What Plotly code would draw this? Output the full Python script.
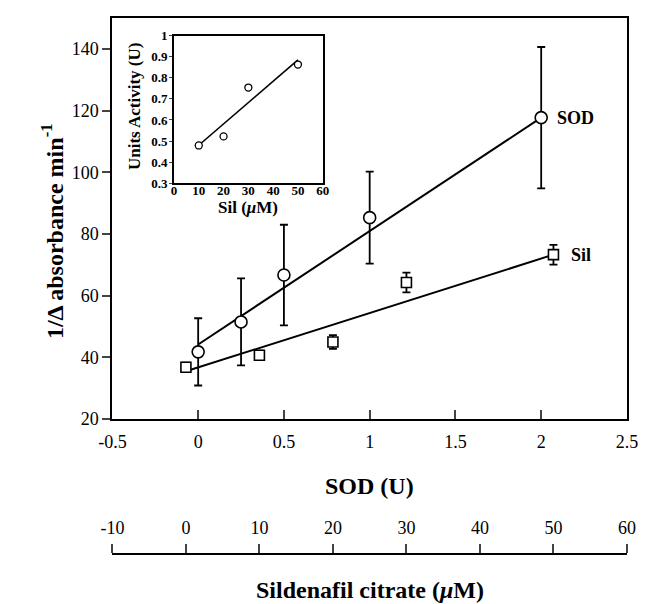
import plotly.graph_objects as go

# ---- data ----
sod_u = [0, 0.25, 0.5, 1, 2]
sod_y = [41.8, 51.5, 66.7, 85.3, 117.7]
sod_err = [10.9, 14.1, 16.3, 14.9, 22.9]
sod_fit_x = [0, 2]
sod_fit_y = [44.2, 117.7]

sil_um = [0, 10, 20, 30, 50]
sil_y = [36.8, 40.7, 45.0, 64.3, 73.3]
sil_err = [1.5, 1.5, 2.2, 3.2, 3.2]
sil_fit_x = [0, 50]
sil_fit_y = [35.5, 73.3]

inset_sil = [10, 20, 30, 50]
inset_units = [0.479, 0.522, 0.754, 0.863]
inset_fit_x = [10, 50]
inset_fit_y = [0.48, 0.885]

sod_ticks = [-0.5, 0, 0.5, 1, 1.5, 2, 2.5]
sod_ticktext = ["-0.5", "0", "0.5", "1", "1.5", "2", "2.5"]
y_ticks = [20, 40, 60, 80, 100, 120, 140]
sil_ticks = [-10, 0, 10, 20, 30, 40, 50, 60]
sil_ticktext = ["-10", "0", "10", "20", "30", "40", "50", "60"]
inset_yticks = [0.3, 0.4, 0.5, 0.6, 0.7, 0.8, 0.9, 1.0]
inset_yticktext = ["0.3", "0.4", "0.5", "0.6", "0.7", "0.8", "0.9", "1"]
inset_xticks = [0, 10, 20, 30, 40, 50, 60]

W, H = 654, 604
SERIF = "Liberation Serif"

def px(xp):
    return xp / W

def py(yp):
    return (H - yp) / (H - 10)

fig = go.Figure()

# SOD fit line & points
fig.add_trace(go.Scatter(x=sod_fit_x, y=sod_fit_y, mode="lines",
                         line=dict(color="black", width=2), xaxis="x", yaxis="y",
                         showlegend=False, hoverinfo="skip"))
fig.add_trace(go.Scatter(x=sod_u, y=sod_y, mode="markers",
                         marker=dict(symbol="circle", size=12, color="white",
                                     line=dict(color="black", width=1.6)),
                         error_y=dict(type="data", array=sod_err, color="black",
                                      thickness=1.8, width=4),
                         xaxis="x", yaxis="y", showlegend=False))

# Sil fit line & points (plotted on sildenafil scale)
fig.add_trace(go.Scatter(x=sil_fit_x, y=sil_fit_y, mode="lines",
                         line=dict(color="black", width=2), xaxis="x3", yaxis="y",
                         showlegend=False, hoverinfo="skip"))
fig.add_trace(go.Scatter(x=sil_um, y=sil_y, mode="markers",
                         marker=dict(symbol="square", size=10, color="white",
                                     line=dict(color="black", width=1.6)),
                         error_y=dict(type="data", array=sil_err, color="black",
                                      thickness=1.8, width=4),
                         xaxis="x3", yaxis="y", showlegend=False))

# inset
fig.add_trace(go.Scatter(x=inset_fit_x, y=inset_fit_y, mode="lines",
                         line=dict(color="black", width=1.6), xaxis="x2", yaxis="y2",
                         showlegend=False, hoverinfo="skip"))
fig.add_trace(go.Scatter(x=inset_sil, y=inset_units, mode="markers",
                         marker=dict(symbol="circle", size=7, color="white",
                                     line=dict(color="black", width=1.3)),
                         xaxis="x2", yaxis="y2", showlegend=False))

# empty traces for the separate sildenafil scale
fig.add_trace(go.Scatter(x=[None], y=[None], xaxis="x4", yaxis="y3", showlegend=False,
                         hoverinfo="skip"))
fig.add_trace(go.Scatter(x=[None], y=[None], xaxis="x5", yaxis="y3", showlegend=False,
                         hoverinfo="skip"))

main_dom_x = [px(94), px(629)]
tickfont = dict(family=SERIF, size=18, color="black")
inset_tickfont = dict(family=SERIF, size=13, color="black", weight="bold")
title_font = dict(family=SERIF, size=24, color="black", weight="bold")
inset_title_font = dict(family=SERIF, size=17, color="black", weight="bold")
label_font = dict(family=SERIF, size=18, color="black", weight="bold")
sil_pos = py(556.5)

fig.update_layout(
    width=W, height=H,
    margin=dict(l=0, r=0, t=10, b=0),
    paper_bgcolor="white", plot_bgcolor="white",
    xaxis=dict(domain=main_dom_x, range=[-0.5, 2.5], tickvals=sod_ticks,
               ticktext=sod_ticktext, ticks="inside", ticklen=9, tickwidth=2,
               showline=True, linewidth=2, linecolor="black", mirror=True,
               showgrid=False, zeroline=False, tickfont=tickfont,
               ticklabelstandoff=5, anchor="y"),
    yaxis=dict(domain=[py(418), 1.0], range=[20, 150], tickvals=y_ticks,
               ticks="outside", ticklen=8, tickwidth=2,
               showline=True, linewidth=2, linecolor="black", mirror=True,
               showgrid=False, zeroline=False, tickfont=tickfont, anchor="x"),
    xaxis3=dict(overlaying="x", range=[-10, 60], visible=False, anchor="y"),
    yaxis3=dict(domain=[0, sil_pos], range=[0, 1], visible=False, anchor="x4"),
    xaxis4=dict(domain=main_dom_x, range=[-10, 60], anchor="y3",
                side="top", tickvals=sil_ticks, ticktext=sil_ticktext,
                ticks="outside", ticklen=9,
                tickwidth=1.8, showline=True, linewidth=1.8, linecolor="black",
                showgrid=False, zeroline=False, tickfont=tickfont,
                ticklabelstandoff=3),
    xaxis5=dict(overlaying="x4", range=[-10, 60], anchor="y3",
                side="top", tickvals=[-10, 60], ticks="inside", ticklen=11,
                tickwidth=1.8, showline=False, showticklabels=False,
                showgrid=False, zeroline=False),
    xaxis2=dict(domain=[px(158), px(312.7)], range=[0, 60], tickvals=inset_xticks,
                ticks="", ticklen=0, showline=True, linewidth=1.6, linecolor="black",
                mirror=True, showgrid=False, zeroline=False, anchor="y2",
                tickfont=inset_tickfont, ticklabelstandoff=-6),
    yaxis2=dict(domain=[py(178), py(28)], range=[0.3, 1.0], tickvals=inset_yticks,
                ticktext=inset_yticktext, ticks="outside", ticklen=3, tickwidth=1.3,
                showline=True, linewidth=1.6, linecolor="black", mirror=True,
                showgrid=False, zeroline=False, anchor="x2",
                tickfont=inset_tickfont, ticklabelstandoff=-1),
    annotations=[
        dict(text="1/Δ absorbance min<sup>-1</sup>", xref="paper", yref="paper",
             x=px(32), y=py(227), xanchor="center", yanchor="middle",
             textangle=-90, showarrow=False, font=title_font),
        dict(text="SOD (U)", xref="paper", yref="paper", x=px(361.5), y=py(486),
             xanchor="center", yanchor="middle", showarrow=False, font=title_font),
        dict(text="Sildenafil citrate (<i>μ</i>M)", xref="paper", yref="paper",
             x=px(361.5), y=py(592), xanchor="center", yanchor="middle",
             showarrow=False, font=title_font),
        dict(text="Units Activity (U)", xref="paper", yref="paper", x=px(117), y=py(100),
             xanchor="center", yanchor="middle", textangle=-90, showarrow=False,
             font=inset_title_font),
        dict(text="Sil (<i>μ</i>M)", xref="paper", yref="paper", x=px(235), y=py(203),
             xanchor="center", yanchor="middle", showarrow=False,
             font=inset_title_font),
        dict(text="SOD", xref="x", yref="y", x=sod_u[-1], y=sod_y[-1], xanchor="left",
             yanchor="middle", xshift=14, showarrow=False, font=label_font),
        dict(text="Sil", xref="x3", yref="y", x=sil_um[-1], y=sil_y[-1], xanchor="left",
             yanchor="middle", xshift=16, showarrow=False, font=label_font),
    ],
)

fig.write_html("out.html")
